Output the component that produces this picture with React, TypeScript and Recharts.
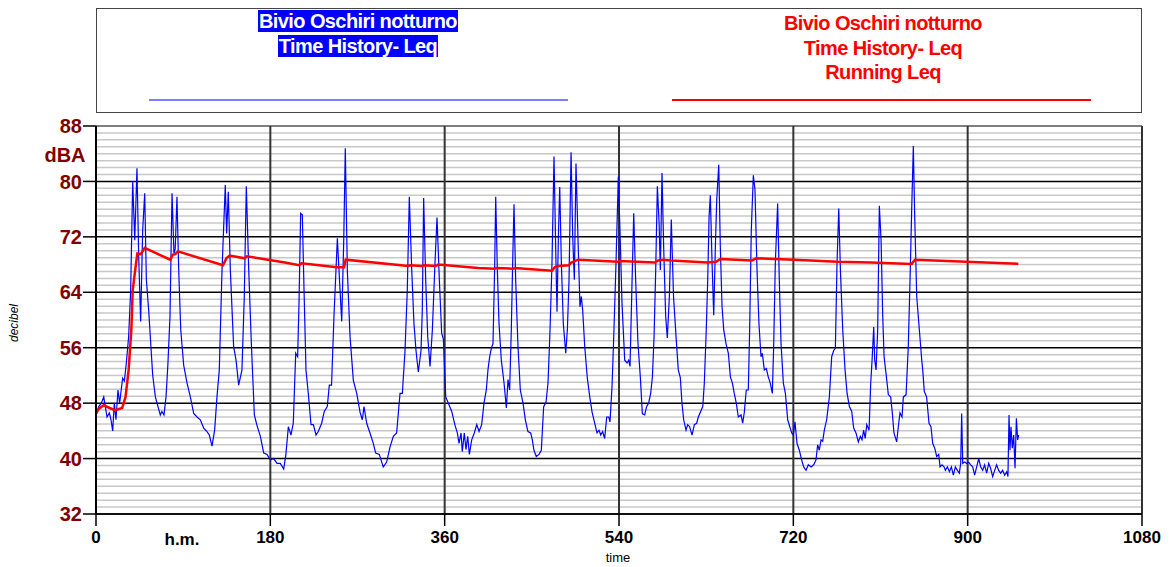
import React from "react";
import { LineChart, Line, XAxis, YAxis, CartesianGrid, ReferenceLine } from "recharts";

// Leq time history (time in h.m. units, level in dBA)
const leqTime = [
  0, 2.8, 5.5, 8, 9.6, 11.4, 13.8, 15.5, 17.2, 18.9, 20.6, 22.7, 24.4, 27.5, 29.3, 31.3, 33.7, 35.8, 37.9, 40,
  42.3, 44.1, 46.1, 48.2, 50.3, 52, 54.4, 56.5, 58.5, 61.3, 64, 66.4, 68, 70.2, 72.3, 74.3, 76.4, 78.5, 80.5, 81.8,
  83.6, 85.4, 87.5, 90.5, 94, 97.4, 100.9, 104.3, 107.7, 111.2, 114.6, 117, 119.8, 122.5, 124.9, 127.3, 130.1, 133.5, 134.9, 136.6,
  138.7, 142.1, 144.6, 147.3, 150.7, 153.1, 155.2, 157.7, 160.4, 163.5, 166.2, 169.7, 173.2, 176.6, 180, 183.4, 186.9, 190.3, 193.8, 196,
  198.6, 201.3, 203.7, 206.2, 208.2, 209.6, 211.3, 213, 214.8, 216.8, 219.2, 222, 224.4, 227.2, 229.5, 233, 235.7, 238.8, 240.9, 243.2,
  245.7, 249.2, 251.6, 253.7, 255.8, 257.4, 259.5, 262.3, 265.7, 269.2, 272.6, 275, 276.7, 279.5, 282.9, 286.3, 288.8, 292.5, 296.6, 300.1,
  303.6, 307, 310.4, 313.9, 316.3, 319, 321.4, 323.5, 326, 328.3, 330.4, 332.8, 335.6, 336.9, 338.3, 340.4, 342.5, 344.9, 347.3, 350,
  352.1, 354.5, 356.9, 358.7, 361.1, 363.8, 367.3, 370.7, 373.1, 374.8, 376.9, 378.2, 380.3, 382, 383.8, 385.5, 387.9, 390.6, 393.1, 395.5,
  398.2, 400.6, 403, 404.7, 406.5, 408.2, 409.9, 411.7, 412.7, 414.4, 416.1, 418.5, 421.3, 423.7, 425.4, 427.1, 428.8, 430.2, 431.6, 433.3,
  435.7, 438.1, 440.9, 443.3, 446, 448.8, 450.5, 452.2, 454.6, 457.4, 459.8, 462.2, 464.6, 466.7, 468.8, 470.8, 472.9, 474.6, 476, 477.4,
  478.8, 480.5, 482.5, 485, 486.7, 488.4, 490.5, 492.2, 493.9, 495.6, 497.7, 499.7, 501.1, 502.5, 504.6, 507.3, 509.8, 512.2, 514.9, 517.3,
  519.4, 521.1, 523.1, 525.2, 527.3, 529.4, 530.7, 532.8, 534.8, 536.9, 539.3, 541, 543.1, 545.9, 548.3, 550, 551.4, 553.1, 555.2, 557.2,
  559.6, 562, 564.1, 566.5, 568.5, 570.6, 572.7, 574.5, 576.2, 577.9, 579.6, 581.4, 582.7, 584.4, 586.1, 588.2, 589.9, 592, 594, 596.3,
  598.9, 601.2, 603.3, 605, 606.8, 609.2, 610.9, 612.9, 615.4, 617.8, 620.2, 621.9, 624, 626.5, 628.1, 630.1, 631.6, 633, 634.3, 636.1,
  637.8, 639.5, 640.9, 643, 644.6, 646.4, 648.1, 650.5, 652.9, 655, 657.1, 659, 661.1, 663.2, 666, 667.7, 669.4, 671.4, 673.5, 674.9,
  676.6, 678.7, 680.4, 682.5, 684.5, 686.6, 688, 690, 692.1, 694.1, 696.2, 698.3, 699.7, 701.4, 703.8, 705.5, 707.3, 709.7, 711.8, 714.2,
  716.3, 718.3, 720, 721.7, 723.8, 726.2, 728.6, 730.7, 733.1, 735.5, 738.3, 741, 743.4, 745.1, 746.8, 748.6, 750.3, 752, 754.4, 757.2,
  759.6, 761.7, 763.4, 765.1, 766.9, 768.6, 771, 773.4, 775.5, 777.9, 780.3, 782.3, 784.7, 787.1, 789.2, 790.9, 792.6, 794.2, 795.8, 798.2,
  799.9, 801.3, 803, 804, 805.4, 807.1, 808.8, 810.6, 812.3, 813.7, 815.7, 818.1, 820.5, 822.2, 823.9, 826.7, 828.4, 830.1, 832.2, 833.6,
  836.4, 838.7, 840.5, 842.2, 843.9, 845.3, 847.4, 850.1, 852.6, 853.6, 855.2, 857.6, 860.1, 862.1, 863.9, 866, 868, 870.1, 871.5, 873.5,
  875.6, 877, 879.1, 881.1, 883.2, 885.2, 887.3, 889.4, 891.4, 892.8, 893.8, 894.9, 896.9, 899, 901, 903.1, 905.2, 907.2, 909.3, 911.4,
  913.4, 915.5, 917.5, 919.6, 921.7, 923.7, 925.8, 927.9, 929.9, 932, 934.1, 936.1, 938.2, 940.3, 941.6, 942.7, 943.7, 944.7, 946.1, 947.5,
  948.9, 950.3, 951.6, 952.7,
];
const leqLevel = [
  46.2, 47.5, 48, 48.9, 47.5, 46, 46.6, 45.6, 44, 48, 45.6, 49.9, 48, 51.6, 51.2, 53.8, 57.6, 64.3, 80, 71.5,
  81.9, 69.1, 59.8, 73, 78.3, 65.8, 61.4, 56.6, 52.1, 48.9, 47.5, 46.3, 46.8, 46.3, 48.9, 53.8, 60.5, 78.3, 69.6, 70.3,
  77.8, 67.2, 58.6, 53.5, 50.9, 48.9, 46.5, 46, 45.6, 44.4, 43.9, 43.4, 41.8, 44.1, 48.9, 52.8, 67.2, 79.5, 72.5, 78.5,
  67.2, 56.2, 54.2, 50.6, 52.8, 63.4, 79.3, 67.2, 56.6, 46.3, 44.8, 43.2, 40.8, 40.6, 39.8, 40, 39.3, 39.3, 38.5, 40.5,
  44.6, 43.4, 45.1, 55.2, 54.7, 62.4, 75.4, 75.2, 64.3, 52.8, 49.4, 44.9, 44.9, 43.4, 43.9, 45.1, 46.8, 47.5, 50.6, 50.6,
  60.5, 71.8, 65.3, 59.8, 71.5, 84.8, 67.2, 57.6, 51.3, 49.4, 46.7, 45.6, 47.5, 45.1, 43.7, 42.2, 40.8, 40.6, 38.8, 39.5,
  41.7, 43.2, 43.7, 49.4, 49.4, 55.4, 64.3, 77.8, 67.2, 59.5, 55.6, 52.5, 55.6, 61.4, 77.6, 65.8, 57.6, 53.3, 58.6, 68.2,
  74.8, 65.8, 58.1, 57.2, 48.9, 48, 46.8, 44.8, 43.7, 42.2, 43.7, 41, 43.7, 41.3, 43.2, 40.6, 42.7, 43.7, 44.9, 43.9,
  44.9, 48, 49.9, 52.8, 54.7, 55.9, 56.6, 68.2, 77.8, 67.2, 59.5, 54.2, 50.9, 47.3, 51.4, 49.9, 58.6, 68.2, 76.7, 65.8,
  56.2, 49.9, 48, 45.6, 43.9, 43.7, 42.7, 41.2, 40.3, 40.6, 41.2, 47.5, 48.1, 50.9, 58.6, 68.2, 83.6, 70.6, 61.2, 72,
  79.2, 68.2, 59.5, 55.2, 58.6, 65.8, 84.2, 72, 65.8, 82.6, 71.5, 61.9, 63.4, 61.4, 56.2, 51.6, 48.9, 46.7, 45.1, 43.7,
  44.1, 43.4, 43.9, 42.9, 46, 46, 45.3, 50.4, 58.6, 68.2, 80.7, 73, 62.4, 54.2, 53.8, 54.2, 53.3, 63.4, 75.4, 65.8,
  56.6, 51.8, 46.5, 46.3, 47.5, 48, 49.4, 51.8, 57.6, 67.2, 79.3, 74, 67.2, 81.2, 70.6, 60.5, 57.4, 63.4, 74.5, 63.4,
  57.6, 52.8, 51.7, 48, 45.6, 44.1, 44.9, 44.6, 43.4, 44.9, 45.1, 46, 46.7, 47.5, 50.9, 58.6, 65.8, 74.9, 78, 68.2,
  60.7, 70.6, 77.3, 82.4, 70.6, 61.9, 58.6, 56.6, 55.2, 51.8, 50.9, 49.4, 48, 46, 46.3, 45.1, 46.7, 49.9, 49.9, 58.6,
  73, 80.9, 78.8, 67.2, 59.5, 54.7, 55.2, 52.8, 53, 51.8, 50.9, 49.4, 56.2, 68.2, 76.8, 65.8, 56.6, 50.9, 49.4, 45.6,
  44.6, 43.7, 43.4, 45.3, 42.2, 41.2, 39.8, 38.8, 38.3, 39.1, 38.8, 39.1, 39.8, 42, 41.2, 42.7, 42.5, 44.1, 45.6, 48.9,
  54.7, 55.6, 55.9, 68.2, 76.1, 67.2, 58.6, 52.8, 49.4, 47.5, 46.8, 44.4, 43.7, 42.4, 43.2, 42.7, 44.1, 42.9, 44.9, 44.1,
  50.9, 54.2, 59, 54.2, 52.8, 58.6, 76.5, 71.5, 60.5, 54.7, 52.3, 49.2, 48.9, 46.6, 43.7, 42.4, 44.6, 46.6, 46, 48.9,
  49.2, 56.2, 65.8, 75.9, 85.1, 75, 63.4, 58.6, 54.2, 52.8, 49.7, 48.9, 45.1, 44.6, 42.2, 41.5, 40.3, 40.6, 38.8, 39.1,
  38.8, 38.3, 38.8, 38.1, 38.8, 37.6, 38.8, 38.3, 37.9, 39.3, 46.5, 39.3, 39.5, 39.3, 39.5, 39.1, 38.8, 37.6, 38.8, 40,
  38.8, 38.3, 39.1, 37.9, 39.3, 38.6, 37.4, 38.3, 39.1, 38.3, 37.9, 38.3, 37.6, 38.1, 37.4, 46.3, 41.2, 44.6, 41.5, 43.4,
  38.6, 45.8, 42.7, 43.4,
];

// Running Leq
const runTime = [
  0, 3, 8, 14, 20, 27, 30.5, 33.7, 36.5, 37.9, 40, 42.7, 46.1, 47.5, 50.3, 76.7, 79, 81.8, 84.7, 131.1,
  134.6, 138, 153.5, 155.9, 195.1, 209.6, 212.3, 248.5, 256.1, 257.8, 322.5, 324.2, 336.2, 339, 350.7, 353.4, 394.4, 411.6, 413.4, 430.6,
  432.3, 470.8, 473.6, 477, 488.1, 490.8, 494.3, 497.7, 539, 540.7, 576.9, 580.4, 585.5, 593.7, 631.6, 640.2, 644.6, 677.3, 681.5, 721,
  765.8, 800.2, 842.2, 845.6, 952.3,
];
const runLevel = [
  46.5, 47.2, 47.7, 47.3, 47, 47.3, 48.9, 52.8, 58.6, 64.3, 66.7, 69.6, 69.5, 69.8, 70.4, 68.7, 69.4, 69.5, 69.9, 67.9,
  68.9, 69.3, 68.9, 69.2, 68.3, 67.9, 68.2, 67.6, 67.6, 68.7, 67.8, 67.9, 67.8, 67.9, 67.8, 68, 67.5, 67.4, 67.5, 67.4,
  67.5, 67.1, 67.6, 67.8, 67.9, 68.3, 68.5, 68.7, 68.4, 68.5, 68.3, 68.6, 68.7, 68.6, 68.3, 68.4, 68.8, 68.6, 68.9, 68.7,
  68.4, 68.3, 68.1, 68.7, 68.1,
];

const xTicks = [0, 180, 360, 540, 720, 900, 1080];
const yTicks = [32, 40, 48, 56, 64, 72, 80, 88];
const minorY = Array.from({ length: 57 }, (_, i) => 32 + i).filter((v) => v % 8 !== 0);

const leqData = leqTime.map((t, i) => ({ t, v: leqLevel[i] }));
const runData = runTime.map((t, i) => ({ t, v: runLevel[i] }));

const FONT = "'Liberation Sans', Arial, sans-serif";

function XAxisTitles({ viewBox }: any) {
  const { x, y } = viewBox;
  return (
    <g fontFamily={FONT}>
      <text x={x + 86} y={y + 31} textAnchor="middle" fontSize={17} fontWeight="bold" fill="#000">
        h.m.
      </text>
      <text x={x + 522} y={y + 48} textAnchor="middle" fontSize={13} fill="#000">
        time
      </text>
    </g>
  );
}

function YAxisTitles({ viewBox }: any) {
  const { x, y } = viewBox;
  return (
    <g fontFamily={FONT}>
      <text x={x + 29} y={y + 36} textAnchor="middle" fontSize={20} fontWeight="bold" fill="#800000">
        dBA
      </text>
      <text
        x={x - 18}
        y={y + 197}
        textAnchor="middle"
        fontSize={12}
        fontStyle="italic"
        fill="#000"
        transform={`rotate(-90 ${x - 18} ${y + 197})`}
      >
        decibel
      </text>
    </g>
  );
}

const legendLine: React.CSSProperties = { lineHeight: "24.5px", whiteSpace: "nowrap" };

export default function App() {
  return (
    <div style={{ position: "absolute", left: 0, top: 0, width: 1176, height: 567, background: "#fff", fontFamily: FONT }}>
      <LineChart width={1176} height={567} data={leqData} margin={{ top: 126, right: 34, left: 36, bottom: 13 }}>
        <CartesianGrid horizontal vertical={false} horizontalValues={minorY} stroke="#c8c8c8" strokeWidth={1.5} />
        <XAxis
          type="number"
          dataKey="t"
          domain={[0, 1080]}
          ticks={xTicks}
          interval={0}
          height={40}
          tickSize={12}
          tickMargin={5}
          axisLine={{ stroke: "#000", strokeWidth: 1.5 }}
          tickLine={{ stroke: "#000", strokeWidth: 1.5 }}
          tick={{ fill: "#000", fontSize: 17, fontWeight: "bold", fontFamily: FONT }}
          label={<XAxisTitles />}
        />
        <YAxis
          type="number"
          domain={[32, 88]}
          ticks={yTicks}
          interval={0}
          width={60}
          tickSize={13}
          tickMargin={1}
          axisLine={{ stroke: "#000", strokeWidth: 2 }}
          tickLine={{ stroke: "#000", strokeWidth: 1.5 }}
          tick={{ fill: "#800000", fontSize: 20, fontWeight: "bold", fontFamily: FONT }}
          label={<YAxisTitles />}
        />
        {yTicks.map((v) => (
          <ReferenceLine key={`y${v}`} y={v} stroke={v === 88 ? "#555" : "#000"} strokeWidth={1.5} />
        ))}
        {xTicks.slice(1).map((v) => (
          <ReferenceLine key={`x${v}`} x={v} stroke="#333" strokeWidth={2} />
        ))}
        <Line
          data={leqData}
          dataKey="v"
          type="linear"
          stroke="#0000ff"
          strokeWidth={1.2}
          dot={false}
          isAnimationActive={false}
        />
        <Line
          data={runData}
          dataKey="v"
          type="linear"
          stroke="#ff0000"
          strokeWidth={2.5}
          dot={false}
          isAnimationActive={false}
        />
      </LineChart>

      <div
        style={{
          position: "absolute",
          left: 96,
          top: 8,
          width: 1046,
          height: 105,
          boxSizing: "border-box",
          border: "1.5px solid #444",
          fontWeight: "bold",
          fontSize: 20,
          letterSpacing: "-0.6px",
        }}
      >
        <div style={{ position: "absolute", left: 11, width: 500, top: 0, textAlign: "center" }}>
          <div style={legendLine}>
            <span style={{ background: "#0000ff", color: "#fff", padding: "0 1px" }}>Bivio Oschiri notturno</span>
          </div>
          <div style={legendLine}>
            <span style={{ background: "#0000ff", color: "#fff", padding: "0 1px" }}>Time History- Leq</span>
          </div>
        </div>
        <div style={{ position: "absolute", left: 52, top: 90, width: 419, height: 2, background: "#7f7fff" }} />
        <div style={{ position: "absolute", left: 536, width: 500, top: 2, textAlign: "center", color: "#ff0000" }}>
          <div style={legendLine}>Bivio Oschiri notturno</div>
          <div style={legendLine}>Time History- Leq</div>
          <div style={legendLine}>Running Leq</div>
        </div>
        <div style={{ position: "absolute", left: 575, top: 90, width: 419, height: 2, background: "#ff0000" }} />
      </div>
    </div>
  );
}
